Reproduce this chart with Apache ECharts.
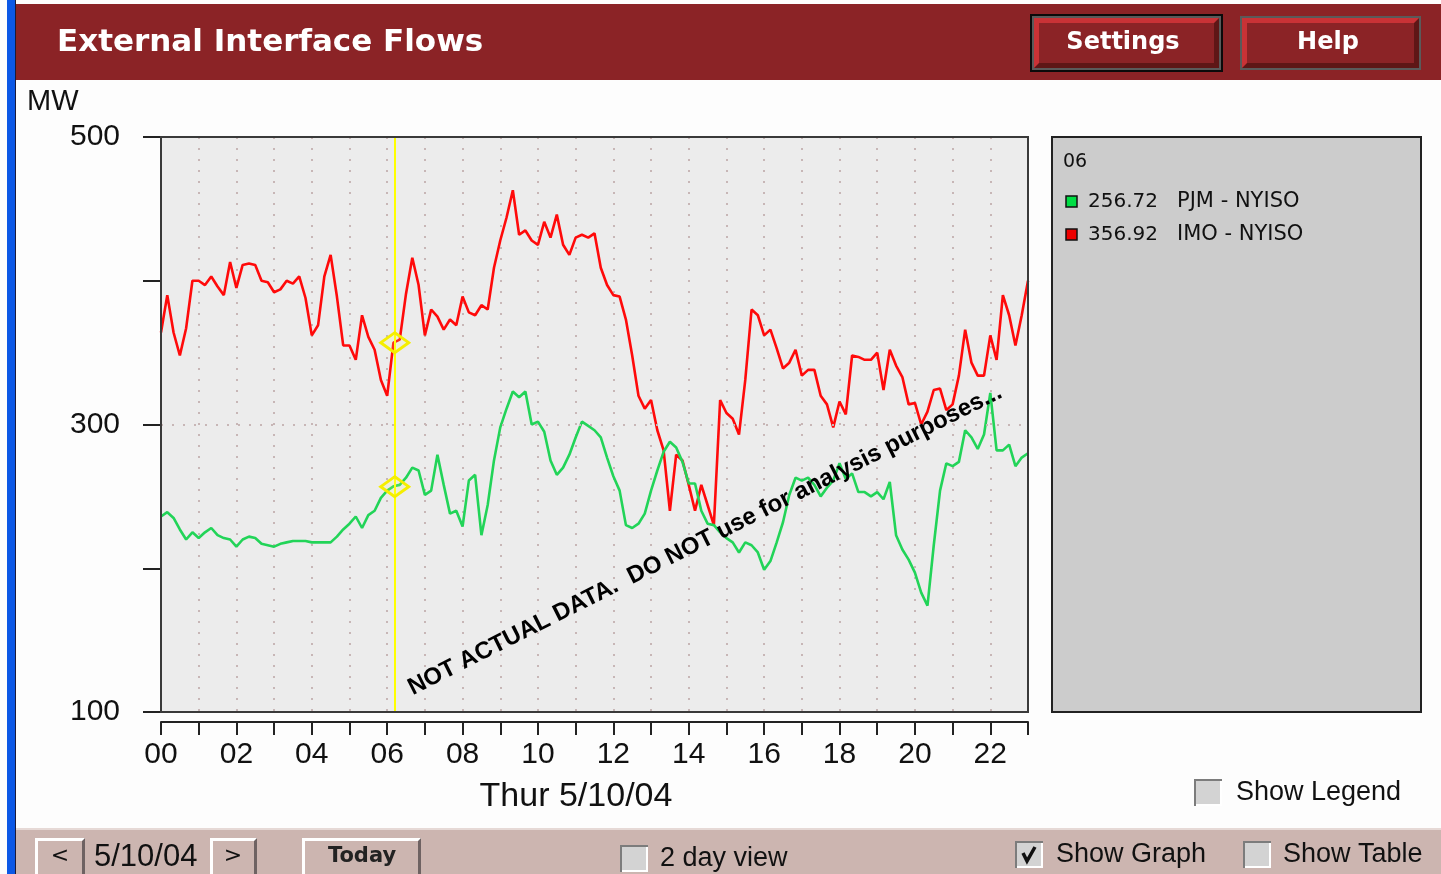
<!DOCTYPE html>
<html><head><meta charset="utf-8">
<script src="https://cdn.jsdelivr.net/npm/echarts@6/dist/echarts.min.js"></script>
<style>html,body{margin:0;padding:0;background:#fdfdfd;}#c{width:1441px;height:874px;}</style>
</head><body><div id="c"></div>
<script>
// ---- data ----
const stepMinutes = 10; // sample spacing of the series, starting at 00:00
const imoNyiso = [
364,390,364,348,367,400,400,397,403,396,
390,413,395,411,412,411,400,399,392,394,
400,398,403,388,362,369,403,418,389,355,
355,345,376,361,352,331,320,357,359,391,
416,397,362,380,375,366,373,369,389,378,
376,383,380,409,428,444,463,432,435,428,
425,441,430,446,425,418,430,432,430,433,
409,397,390,389,373,348,320,311,317,296,
282,240,279,275,258,240,258,244,230,317,
308,304,293,331,380,376,362,366,353,339,
343,352,334,338,338,320,314,298,316,307,
348,347,345,345,350,324,352,341,333,314,
315,300,309,324,325,310,314,334,366,343,
334,334,362,345,390,376,355,376,400];
const pjmNyiso = [
236,239,235,227,220,225,221,225,228,223,
221,220,215,220,222,221,217,216,215,217,
218,219,219,219,218,218,218,218,222,227,
231,236,228,237,240,249,254,257,258,263,
270,268,251,254,279,258,238,240,229,261,
265,223,244,275,298,311,323,319,323,300,
302,295,275,265,270,279,291,302,299,296,
291,277,264,254,230,228,231,238,254,268,
281,288,284,274,259,259,240,231,230,225,
221,218,211,218,216,211,199,205,218,232,
251,263,261,263,258,250,256,261,273,262,
266,253,253,250,253,248,260,223,213,206,
197,183,174,216,254,273,271,274,296,291,
283,293,322,282,282,286,271,277,280];
const seriesNames = ['PJM - NYISO', 'IMO - NYISO'];
const cursorHour = 6.2;
const cursorLabel = '06';
const cursorValues = [256.72, 356.92];
const yLabeled = [500, 300, 100];
const refLine = 300;
const dateLabel = 'Thur 5/10/04';
const navDate = '5/10/04';
const titleText = 'External Interface Flows';

const hours = imoNyiso.map((_, i) => i * stepMinutes / 60);
const toPairs = arr => arr.map((v, i) => [hours[i], v]);

// ---- chrome helpers ----
const BAR = '#8b2326';
const TAN = '#ccb5b0';
function rect(x, y, w, h, fill, extra) {
  return Object.assign({ type: 'rect', shape: { x, y, width: w, height: h }, style: { fill }, silent: true }, extra || {});
}
function txt(x, y, text, font, fill, align, extra) {
  return Object.assign({ type: 'text', x, y, silent: true,
    style: { text, font, fill: fill || '#111', align: align || 'left', verticalAlign: 'middle' } }, extra || {});
}
function bevel(x, y, w, h, b, light, dark, face) {
  return [
    rect(x, y, w, h, dark),
    { type: 'polygon', silent: true, shape: { points: [[x, y], [x + w, y], [x + w - b, y + b], [x + b, y + b], [x + b, y + h - b], [x, y + h]] }, style: { fill: light } },
    rect(x + b, y + b, w - 2 * b, h - 2 * b, face)
  ];
}
function checkbox(x, y, checked) {
  const els = [rect(x, y, 28, 27, '#7c7c7c'), rect(x + 2, y + 2, 26, 25, '#ffffff'), rect(x + 2, y + 2, 24, 23, '#d3d3d3')];
  if (checked) els.push({ type: 'polyline', silent: true, shape: { points: [[x + 8, y + 12], [x + 12, y + 20], [x + 20, y + 6]] }, style: { stroke: '#111', lineWidth: 3.5, fill: null } });
  return els;
}

const F = 'Liberation Sans, Arial, sans-serif';
const V = 'DejaVu Sans, Verdana, sans-serif';

const graphics = [].concat(
  [rect(7, 0, 8, 874, '#0c58e6'), rect(15, 0, 1, 874, '#1b1b3a')],
  [rect(16, 4, 1425, 76, BAR)],
  [txt(57, 43, titleText, 'bold 31px ' + V, '#ffffff')],
  // Settings button
  [rect(1030, 14, 193, 58, '#0a0a0a'), rect(1032, 16, 189, 54, '#5a5a5a')],
  bevel(1034, 18, 185, 50, 5, '#c93236', '#5e1616', BAR),
  [txt(1123, 43, 'Settings', 'bold 24px ' + V, '#ffffff', 'center')],
  // Help button
  [rect(1240, 16, 181, 54, '#5a5a5a')],
  bevel(1242, 18, 177, 50, 5, '#c93236', '#5e1616', BAR),
  [txt(1328, 43, 'Help', 'bold 24px ' + V, '#ffffff', 'center')],
  [txt(27, 102, 'MW', '29px ' + F)],
  // plot frame drawn on top so the hour grid does not dot the border
  [{ type: 'rect', silent: true, z: 50, shape: { x: 161, y: 137, width: 867, height: 575 }, style: { fill: null, stroke: '#3a3a3a', lineWidth: 2 } }],
  // legend panel
  [rect(1052, 137, 369, 575, '#cccccc', { style: { fill: '#cccccc', stroke: '#222', lineWidth: 2 } })],
  [txt(1063, 162, cursorLabel, '19px ' + V, '#111')],
  [rect(1066, 196, 11, 11, '#00dd44', { style: { fill: '#00dd44', stroke: '#111', lineWidth: 1.5 } }),
   txt(1088, 202, cursorValues[0].toFixed(2), '20px ' + V, '#111'),
   txt(1177, 202, seriesNames[0], '21px ' + V, '#111'),
   rect(1066, 229, 11, 11, '#ee0000', { style: { fill: '#ee0000', stroke: '#111', lineWidth: 1.5 } }),
   txt(1088, 235, cursorValues[1].toFixed(2), '20px ' + V, '#111'),
   txt(1177, 235, seriesNames[1], '21px ' + V, '#111')],
  // show legend
  checkbox(1194, 779, false),
  [txt(1236, 793, 'Show Legend', '27px ' + F)],
  [txt(576, 797, dateLabel, '34px ' + F, '#111', 'center')],
  // bottom bar
  [rect(16, 828, 1425, 46, TAN), rect(16, 828, 1425, 2, '#e6d9d6')],
  bevel(35, 838, 50, 40, 3, '#ffffff', '#6e6262', TAN),
  [txt(60, 856, '<', '22px ' + V, '#111', 'center')],
  [txt(94, 857, navDate, '31px ' + F)],
  bevel(210, 838, 47, 40, 3, '#ffffff', '#6e6262', TAN),
  [txt(233, 856, '>', '22px ' + V, '#111', 'center')],
  bevel(302, 838, 119, 40, 3, '#ffffff', '#6e6262', TAN),
  [txt(362, 857, 'Today', 'bold 21px ' + V, '#222', 'center')],
  checkbox(620, 845, false),
  [txt(660, 859, '2 day view', '27px ' + F)],
  checkbox(1015, 841, true),
  [txt(1056, 855, 'Show Graph', '27px ' + F)],
  checkbox(1243, 841, false),
  [txt(1283, 855, 'Show Table', '27px ' + F)],
  // watermark
  [{ type: 'text', x: 705, y: 540, rotation: 0.468, silent: true, z: 100,
     style: { text: 'NOT ACTUAL DATA.  DO NOT use for analysis purposes...', font: 'bold 24px ' + F, fill: '#000', align: 'center', verticalAlign: 'middle' } }]
);

const chart = echarts.init(document.getElementById('c'), null, { renderer: 'canvas' });
chart.setOption({
  animation: false,
  backgroundColor: '#fdfdfd',
  grid: { left: 161, top: 137, width: 867, height: 575, show: true, backgroundColor: '#ececec', borderColor: '#3a3a3a', borderWidth: 2 },
  xAxis: {
    type: 'value', min: 0, max: 23, interval: 1, offset: 10,
    axisLine: { show: true, lineStyle: { color: '#222', width: 2 } },
    axisTick: { show: true, length: 13, lineStyle: { color: '#222', width: 2 } },
    axisLabel: { showMinLabel: true, showMaxLabel: true, hideOverlap: false, margin: 18, fontSize: 30, fontFamily: F, color: '#111',
      formatter: v => (v % 2 === 0 ? String(v).padStart(2, '0') : '') },
    splitLine: { show: true, lineStyle: { color: '#c7b6b6', width: 2, type: [2, 9] } }
  },
  yAxis: {
    type: 'value', min: 100, max: 500, interval: 100, offset: 9,
    axisLine: { show: true, lineStyle: { color: '#222', width: 2 } },
    axisTick: { show: true, length: 18, lineStyle: { color: '#222', width: 2 } },
    axisLabel: { showMinLabel: true, showMaxLabel: true, margin: 32, fontSize: 30, fontFamily: F, color: '#111',
      formatter: v => (yLabeled.indexOf(v) >= 0 ? String(v) : '') },
    splitLine: { show: false }
  },
  series: [
    { name: seriesNames[1], type: 'line', data: toPairs(imoNyiso), showSymbol: false, symbol: 'none',
      lineStyle: { color: '#ff0a0a', width: 2.6 }, z: 3,
      markLine: { silent: true, symbol: 'none', label: { show: false },
        data: [
          { yAxis: refLine, lineStyle: { color: '#c7b6b6', width: 2, type: [2, 9] } },
          { xAxis: cursorHour, lineStyle: { color: '#ffff00', width: 2, type: 'solid' } }
        ] },
      markPoint: { silent: true, symbol: 'diamond', symbolSize: [28, 20], label: { show: false },
        itemStyle: { color: 'rgba(255,255,120,0.15)', borderColor: '#f5ee00', borderWidth: 3 },
        data: [{ coord: [cursorHour, cursorValues[1]] }] } },
    { name: seriesNames[0], type: 'line', data: toPairs(pjmNyiso), showSymbol: false, symbol: 'none',
      lineStyle: { color: '#22d458', width: 2.6 }, z: 3,
      markPoint: { silent: true, symbol: 'diamond', symbolSize: [28, 20], label: { show: false },
        itemStyle: { color: 'rgba(255,255,120,0.15)', borderColor: '#f5ee00', borderWidth: 3 },
        data: [{ coord: [cursorHour, cursorValues[0]] }] } }
  ],
  graphic: { elements: graphics }
});
</script></body></html>
